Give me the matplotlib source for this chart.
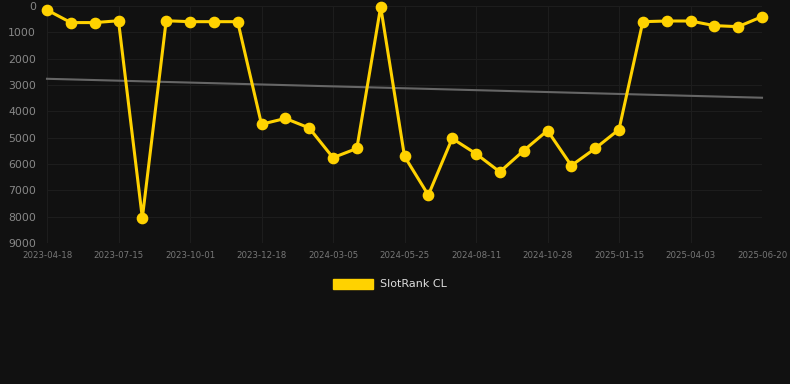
import numpy as np
import matplotlib
matplotlib.use('Agg')
import matplotlib.pyplot as plt
from matplotlib.patches import Patch

dates = ['2023-04-18', '2023-05-17', '2023-06-15', '2023-07-15', '2023-08-10', '2023-09-05',
         '2023-10-01', '2023-10-27', '2023-11-22', '2023-12-18', '2024-01-13', '2024-02-08',
         '2024-03-05', '2024-04-01', '2024-04-28', '2024-05-25', '2024-06-20', '2024-07-16',
         '2024-08-11', '2024-09-06', '2024-10-02', '2024-10-28', '2024-11-23', '2024-12-19',
         '2025-01-15', '2025-02-10', '2025-03-08', '2025-04-03', '2025-04-29', '2025-05-25',
         '2025-06-20']
rank = [150, 630, 630, 560, 8050, 560, 595, 595, 595, 4490, 4270, 4630,
        5760, 5410, 30, 5710, 7180, 5030, 5610, 6300, 5490, 4730,
        6060, 5410, 4690, 595, 570, 570, 745, 785, 405]
series_name = 'SlotRank CL'

bg = '#111111'
yellow = '#FFD200'

fig = plt.figure(figsize=(7.9, 3.84), dpi=100, facecolor=bg)
ax = fig.add_axes([47/790, 1 - 243/384, 715/790, 237/384], facecolor=bg)

x = np.arange(len(dates))
# trend line (linear fit)
k, b = np.polyfit(x, rank, 1)
ax.plot(x, k*x + b, color='#666666', lw=1.5, zorder=2, clip_on=False)
ax.plot(x, rank, color=yellow, lw=2.2, solid_joinstyle='miter', zorder=3, clip_on=False)
ax.plot(x, rank, ls='none', color=yellow, marker='o', ms=7.4, zorder=4, clip_on=False)

ax.set_xlim(0, len(dates) - 1)
ax.set_ylim(9000, 0)
ax.set_yticks(range(0, 9001, 1000))
ax.set_xticks(x[::3])
ax.set_xticklabels(dates[::3])
ax.tick_params(axis='y', length=0, pad=8, labelsize=7.8, labelcolor='#888888')
ax.tick_params(axis='x', length=0, pad=6, labelsize=6.2, labelcolor='#777777')
ax.grid(True, color='#1d1d1d', lw=0.8)
for s in ax.spines.values():
    s.set_visible(False)
ax.set_axisbelow(True)

fig.legend(handles=[Patch(facecolor=yellow, edgecolor=yellow)], labels=[series_name],
           loc='center', bbox_to_anchor=(390/790, 1 - 284/384), frameon=False,
           handlelength=3.6, handleheight=1.0, handletextpad=0.6,
           fontsize=8, labelcolor='#dddddd')

fig.savefig('out.png', dpi=100, facecolor=bg)
